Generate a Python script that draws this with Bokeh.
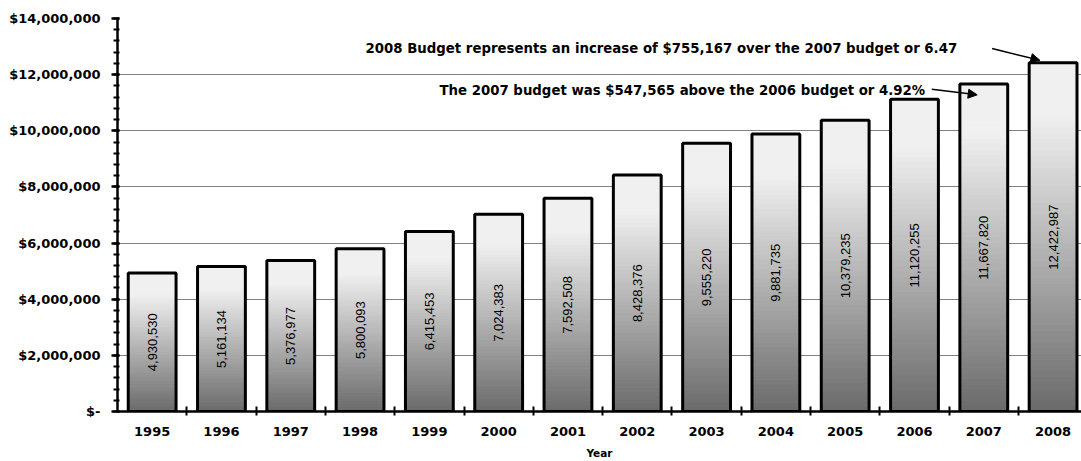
import math
from bokeh.plotting import figure
from bokeh.models import FixedTicker, Label, Arrow, NormalHead, ColumnDataSource, Range1d
from bokeh.core.properties import value
from bokeh.embed import file_html
from bokeh.resources import INLINE

years = ["1995", "1996", "1997", "1998", "1999", "2000", "2001",
         "2002", "2003", "2004", "2005", "2006", "2007", "2008"]
budgets = [4930530, 5161134, 5376977, 5800093, 6415453, 7024383, 7592508,
           8428376, 9555220, 9881735, 10379235, 11120255, 11667820, 12422987]
bar_labels = ["4,930,530", "5,161,134", "5,376,977", "5,800,093", "6,415,453",
              "7,024,383", "7,592,508", "8,428,376", "9,555,220", "9,881,735",
              "10,379,235", "11,120,255", "11,667,820", "12,422,987"]
y_ticks = [0, 2000000, 4000000, 6000000, 8000000, 10000000, 12000000, 14000000]
y_tick_labels = ["$-", "$2,000,000", "$4,000,000", "$6,000,000", "$8,000,000",
                 "$10,000,000", "$12,000,000", "$14,000,000"]
note_2008 = "2008 Budget represents an increase of $755,167 over the 2007 budget or 6.47"
note_2007 = "The 2007 budget was $547,565 above the 2006 budget or 4.92%"

BOLD = "DejaVu Sans"
BAR_W = 0.69

p = figure(width=1081, height=461, output_backend="svg", toolbar_location=None,
           x_range=Range1d(-0.5, 13.41), y_range=Range1d(0, 14000000),
           min_border_left=117, min_border_right=0, min_border_top=18,
           min_border_bottom=47)
p.outline_line_color = None
p.background_fill_color = "white"
p.border_fill_color = "white"

# gradient bars built from slices of each bar's value
N = 60
light = 240
dark = 106
xs, bots, tops, cols = [], [], [], []
for i, v in enumerate(budgets):
    for k in range(N):
        f0 = k / N
        f1 = (k + 1) / N
        fm = (f0 + f1) / 2
        g = min(1.0, fm / 0.85)
        c = int(round(dark + (light - dark) * g))
        xs.append(i)
        bots.append(v * f0)
        tops.append(v * f1)
        cols.append("#%02x%02x%02x" % (c, c, c))
p.vbar(x=xs, bottom=bots, top=tops, width=BAR_W, fill_color=cols,
       line_color=cols, line_width=1)

src = ColumnDataSource(dict(x=list(range(len(years))), top=budgets,
                            mid=[v / 2 for v in budgets], lab=bar_labels))
p.vbar(x="x", top="top", bottom=0, width=BAR_W, source=src,
       fill_color=None, line_color="black", line_width=3)
p.text(x="x", y="mid", text="lab", source=src, angle=math.pi / 2,
       text_align="center", text_baseline="middle", text_font_size="13px",
       text_color="black", text_font=value("Liberation Sans"))

# grid
p.xgrid.grid_line_color = None
p.ygrid.grid_line_color = "#808080"
p.ygrid.grid_line_width = 1
p.ygrid.level = "underlay"

# y axis
yax = p.yaxis[0]
yax.ticker = FixedTicker(ticks=y_ticks,
                         minor_ticks=[j * 400000 for j in range(36)])
yax.major_label_overrides = {t: s for t, s in zip(y_ticks, y_tick_labels)}
yax.axis_line_width = 2.5
yax.axis_line_color = "black"
yax.major_tick_line_width = 2.5
yax.major_tick_in = 2
yax.major_tick_out = 6
yax.minor_tick_line_width = 2
yax.minor_tick_in = 2
yax.minor_tick_out = 4
yax.major_label_standoff = 11
yax.major_label_text_font = BOLD
yax.major_label_text_font_style = "bold"
yax.major_label_text_font_size = "13px"
yax.major_label_text_color = "black"

# x axis
xax = p.xaxis[0]
xax.ticker = FixedTicker(ticks=list(range(len(years))),
                         minor_ticks=[i + 0.5 for i in range(len(years))])
xax.major_label_overrides = {i: y for i, y in enumerate(years)}
xax.axis_line_width = 2.5
xax.axis_line_color = "black"
xax.major_tick_in = 0
xax.major_tick_out = 0
xax.minor_tick_line_width = 2
xax.minor_tick_in = 5
xax.minor_tick_out = 4
xax.major_label_standoff = 11
xax.major_label_text_font = BOLD
xax.major_label_text_font_style = "bold"
xax.major_label_text_font_size = "13px"
xax.major_label_text_color = "black"
xax.axis_label = "Year"
xax.axis_label_text_font = BOLD
xax.axis_label_text_font_style = "bold"
xax.axis_label_text_font_size = "10.5px"
xax.axis_label_text_color = "black"
xax.axis_label_standoff = 8

# annotations
p.add_layout(Label(x=11.616, y=12920000, text=note_2008, text_align="right",
                   text_baseline="middle", text_font=BOLD, text_font_style="bold",
                   text_font_size="13.3px", text_color="black"))
p.add_layout(Label(x=11.154, y=11450000, text=note_2007, text_align="right",
                   text_baseline="middle", text_font=BOLD, text_font_style="bold",
                   text_font_size="13.3px", text_color="black"))
p.add_layout(Arrow(x_start=12.12, y_start=12930000, x_end=12.81, y_end=12510000,
                   line_width=1.5, line_color="black",
                   end=NormalHead(size=9, fill_color="black", line_color="black")))
p.add_layout(Arrow(x_start=11.25, y_start=11480000, x_end=11.905, y_end=11280000,
                   line_width=1.5, line_color="black",
                   end=NormalHead(size=9, fill_color="black", line_color="black")))

open("out.html", "w").write(file_html(p, INLINE))
